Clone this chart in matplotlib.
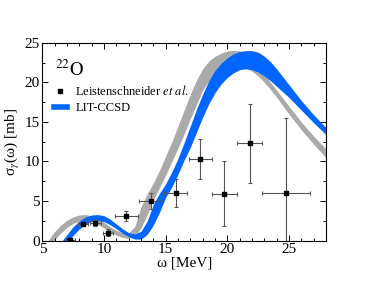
import matplotlib
matplotlib.use("Agg")
import matplotlib.pyplot as plt
from matplotlib.lines import Line2D
from matplotlib.ticker import MultipleLocator

plt.rcParams['font.family'] = ['Liberation Serif', 'DejaVu Serif']
plt.rcParams['mathtext.fontset'] = 'stix'

# experimental data (Leistenschneider et al.)
exp_x = [7.25, 8.3, 9.3, 10.35, 11.8, 13.8, 15.8, 17.8, 19.75, 21.8, 24.75]
exp_y = [0.15, 2.1, 2.2, 1.0, 3.15, 5.05, 6.05, 10.3, 5.9, 12.3, 6.0]
exp_xerr = [0.35, 0.42, 0.45, 0.4, 0.92, 0.95, 0.9, 0.95, 1.0, 1.03, 1.95]
exp_yerr = [0.15, 0.3, 0.35, 0.42, 0.63, 1.03, 1.77, 2.57, 4.1, 5.0, 9.5]

# gray band
gray_x = [5.45, 5.9, 6.5, 7.0, 7.5, 8.0, 8.5, 9.0, 9.5, 10.0, 10.5, 11.0, 11.5, 12.0,
          12.5, 13.0, 13.5, 14.0, 14.5, 15.0, 15.5, 16.0, 16.5, 17.0, 17.5, 18.0,
          18.5, 19.0, 19.5, 20.0, 20.5, 21.0, 21.5, 22.0, 22.5, 23.0, 23.5, 24.0,
          25.0, 26.0, 27.0, 28.0]
gray_hi = [0.0, 1.0, 2.0, 2.6, 3.0, 3.25, 3.3, 3.15, 2.8, 2.3, 1.75, 1.3, 1.0, 1.0,
           1.8, 4.3, 5.9, 7.3, 8.9, 10.7, 12.5, 14.5, 16.5, 18.5, 20.3, 21.7,
           22.7, 23.3, 23.7, 23.95, 24.05, 23.95, 23.5, 22.8, 22.0, 21.0, 20.0, 19.0,
           17.0, 15.0, 13.2, 11.6]
gray_lo = [0.0, 0.0, 1.0, 1.7, 2.2, 2.5, 2.55, 2.4, 2.05, 1.6, 1.1, 0.7, 0.4, 0.3,
           0.6, 1.6, 3.3, 5.2, 6.7, 8.3, 10.0, 11.7, 13.5, 15.4, 17.2, 19.0,
           20.2, 21.0, 21.5, 21.8, 21.95, 22.0, 21.8, 21.4, 20.8, 20.0, 19.1, 18.1,
           16.0, 14.0, 12.2, 10.5]

# blue band (LIT-CCSD)
blue_x = [6.6, 7.1, 7.5, 8.0, 8.5, 9.0, 9.5, 10.0, 10.5, 11.0, 11.5, 12.0, 12.5,
          13.0, 13.5, 14.0, 14.5, 15.0, 15.5, 16.0, 16.5, 17.0, 17.5, 18.0, 18.5,
          19.0, 19.5, 20.0, 20.5, 21.0, 21.5, 22.0, 22.5, 23.0, 23.5, 24.0, 24.5,
          25.0, 26.0, 27.0, 28.0]
blue_hi = [0.0, 1.0, 1.8, 2.5, 3.0, 3.25, 3.3, 3.15, 2.7, 2.1, 1.5, 1.0, 0.85,
           1.2, 2.5, 4.6, 6.0, 7.2, 8.7, 10.4, 12.4, 14.5, 16.6, 18.5, 20.2,
           21.5, 22.4, 23.1, 23.6, 23.9, 24.0, 24.0, 23.8, 23.3, 22.6, 21.7, 20.7,
           19.7, 17.7, 15.9, 14.3]
blue_lo = [0.0, 0.0, 0.7, 1.5, 2.1, 2.45, 2.55, 2.4, 2.0, 1.5, 0.95, 0.5, 0.2,
           0.2, 0.8, 2.0, 3.6, 5.5, 6.8, 8.4, 10.2, 11.8, 13.7, 15.6, 17.3,
           18.7, 19.8, 20.6, 21.2, 21.6, 21.7, 21.6, 21.3, 20.8, 20.2, 19.5, 18.8,
           18.1, 16.5, 14.9, 13.4]

GRAY = '#aaaaaa'
BLUE = '#0066ff'

fig = plt.figure(figsize=(3.67, 2.84), dpi=100)
ax = fig.add_axes([0.1158, 0.1525, 0.7722, 0.6971])

ax.fill_between(gray_x, gray_lo, gray_hi, color=GRAY, lw=0)
ax.fill_between(blue_x, blue_lo, blue_hi, color=BLUE, lw=0)

ax.errorbar(exp_x, exp_y, xerr=exp_xerr, yerr=exp_yerr, fmt='s', ms=2.2,
            mfc='black', mec='black', ecolor='#555555', elinewidth=0.8,
            capsize=1.5, capthick=0.8)

ax.set_xlim(5, 28)
ax.set_ylim(0, 25)
ax.xaxis.set_major_locator(MultipleLocator(5))
ax.xaxis.set_minor_locator(MultipleLocator(1))
ax.yaxis.set_major_locator(MultipleLocator(5))
ax.yaxis.set_minor_locator(MultipleLocator(2.5))
ax.tick_params(which='both', direction='in', top=True, right=True, labelsize=11)
ax.tick_params(which='major', length=4, width=0.7, pad=2)
ax.tick_params(which='minor', length=2, width=0.7)
for s in ax.spines.values():
    s.set_linewidth(0.8)

ax.set_xlabel('ω [MeV]', fontsize=11, labelpad=0)
ax.set_ylabel(r'σ$_\gamma$(ω) [mb]', fontsize=11, labelpad=2)

ax.text(0.045, 0.915, r'$^{22}\mathrm{O}$', transform=ax.transAxes, fontsize=13.5,
        va='top', ha='left')

handles = [Line2D([], [], ls='none', marker='s', ms=2.5, color='black'),
           Line2D([], [], lw=4, color=BLUE)]
labels = [r'Leistenschneider $\mathit{et\ al.}$', 'LIT-CCSD']
ax.legend(handles, labels, loc='upper left', bbox_to_anchor=(0.01, 0.835),
          frameon=False, fontsize=9, handlelength=1.0, handletextpad=0.7,
          labelspacing=0.3, borderaxespad=0.3)

fig.savefig('out.png', dpi=100)
